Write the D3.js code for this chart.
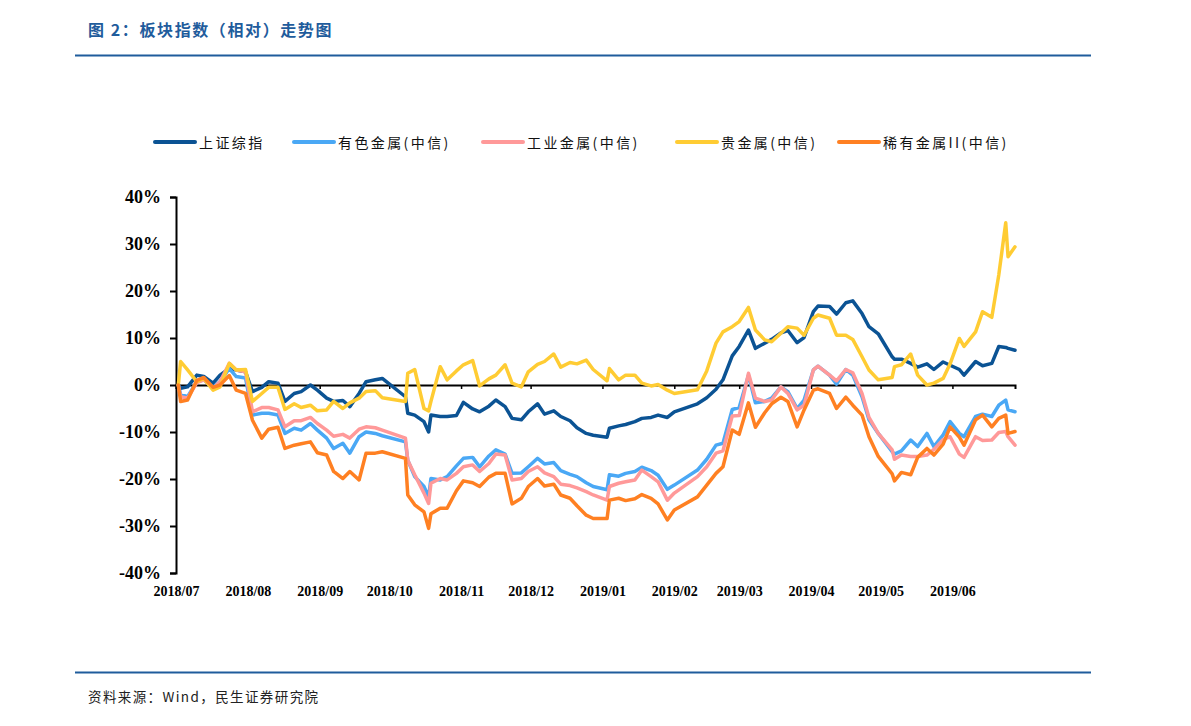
<!DOCTYPE html>
<html><head><meta charset="utf-8">
<script src="https://cdn.jsdelivr.net/npm/d3@7"></script>
<style>
body{margin:0;background:#fff;}
svg{display:block;}
</style></head>
<body>
<svg id="chart" width="1191" height="726"></svg>
<script>
// ---- DATA ----
const dates = [
 "2018-07-02","2018-07-03","2018-07-06","2018-07-10","2018-07-13","2018-07-17","2018-07-20","2018-07-24","2018-07-27","2018-07-31",
 "2018-08-03","2018-08-07","2018-08-10","2018-08-14","2018-08-17","2018-08-21","2018-08-24","2018-08-28","2018-08-31",
 "2018-09-04","2018-09-07","2018-09-11","2018-09-14","2018-09-18","2018-09-21","2018-09-25","2018-09-28",
 "2018-10-08","2018-10-09","2018-10-12","2018-10-16","2018-10-18","2018-10-19","2018-10-23","2018-10-26","2018-10-30",
 "2018-11-02","2018-11-06","2018-11-09","2018-11-13","2018-11-16","2018-11-20","2018-11-23","2018-11-27","2018-11-30",
 "2018-12-04","2018-12-07","2018-12-11","2018-12-14","2018-12-18","2018-12-21","2018-12-25","2018-12-28",
 "2019-01-03","2019-01-04","2019-01-08","2019-01-11","2019-01-15","2019-01-18","2019-01-22","2019-01-25","2019-01-29",
 "2019-02-01","2019-02-11","2019-02-15","2019-02-19","2019-02-22","2019-02-26",
 "2019-03-01","2019-03-05","2019-03-08","2019-03-12","2019-03-15","2019-03-19","2019-03-22","2019-03-26","2019-03-29",
 "2019-04-02","2019-04-04","2019-04-09","2019-04-12","2019-04-16","2019-04-19","2019-04-23","2019-04-26","2019-04-30",
 "2019-05-06","2019-05-07","2019-05-10","2019-05-14","2019-05-17","2019-05-21","2019-05-24","2019-05-28","2019-05-31",
 "2019-06-04","2019-06-06","2019-06-11","2019-06-14","2019-06-18","2019-06-21","2019-06-24","2019-06-25","2019-06-28"
];
const seriesNames = ["上证综指","有色金属(中信)","工业金属(中信)","贵金属(中信)","稀有金属II(中信)"];
const seriesColors = ["#0b5394","#4aa8f5","#ff9999","#ffcc33","#ff8022"];

const shIndex = [
 0,-0.7,-0.4,2.1,1.8,0.4,2.1,3.5,3.2,2.8,
 -1.4,-0.5,0.7,0.4,-3.5,-1.8,-1.4,0,-1.1,
 -2.8,-3.5,-3.3,-4.6,-1.8,0.7,1.1,1.4,
 -2.5,-6.0,-6.4,-7.8,-10.0,-6.4,-6.7,-6.7,-6.5,
 -3.7,-5.1,-5.7,-4.5,-3.2,-4.6,-7.1,-7.4,-5.7,
 -4.0,-6.2,-5.5,-6.7,-7.6,-9.1,-10.3,-10.7,
 -11.1,-9.2,-8.7,-8.4,-7.8,-7.1,-6.9,-6.4,-6.9,
 -5.7,-4.0,-2.7,-0.9,1.1,6.2,
 8.2,11.7,7.8,8.9,9.7,11.1,11.6,9.0,10.1,
 15.6,16.8,16.7,15.1,17.5,17.9,15.2,12.4,10.9,
 6.0,5.5,5.5,4.6,3.8,4.5,3.3,4.9,4.2,
 3.3,2.1,5.0,4.1,4.6,8.2,8.0,7.8,7.4
];
const nonferrous = [
 0,-2.0,-2.5,0.7,1.1,-0.5,0.7,3.5,1.8,1.5,
 -6.4,-6.0,-6.0,-6.4,-10.3,-9.2,-9.6,-8.2,-9.6,
 -11.3,-13.5,-12.4,-14.5,-11.0,-10.0,-10.3,-10.8,
 -12.1,-16.0,-19.5,-21.6,-23.8,-19.9,-20.2,-19.5,-17.2,
 -15.6,-15.4,-17.4,-15.1,-13.8,-14.7,-18.8,-18.7,-17.4,
 -15.6,-16.8,-16.5,-18.2,-19.0,-19.5,-20.8,-21.6,
 -22.3,-19.1,-19.4,-18.8,-18.4,-17.5,-18.2,-19.2,-22.2,
 -21.3,-18.1,-15.8,-12.8,-12.4,-5.2,
 -4.8,2.1,-3.8,-3.5,-2.8,-0.4,-1.4,-5.0,-3.2,
 3.2,4.0,2.1,0.2,3.3,2.1,-2.5,-7.4,-10.3,
 -14.2,-14.7,-14.0,-11.7,-13.1,-10.3,-13.1,-10.6,-7.8,
 -10.3,-11.0,-6.7,-6.2,-6.7,-4.3,-3.2,-5.3,-5.7
];
const industrial = [
 0,-2.5,-2.8,0.5,1.1,-0.7,0.7,4.6,3.2,2.8,
 -5.7,-4.8,-4.8,-5.3,-8.9,-7.6,-7.6,-6.9,-8.2,
 -9.6,-10.9,-10.5,-11.3,-9.4,-8.9,-9.1,-9.6,
 -11.3,-16.0,-19.1,-23.0,-25.2,-20.9,-19.9,-20.2,-18.8,
 -17.4,-17.0,-18.4,-16.7,-14.7,-14.9,-20.2,-19.9,-18.4,
 -17.4,-18.7,-19.5,-21.1,-21.4,-21.9,-22.7,-23.4,
 -24.5,-21.6,-20.9,-20.6,-20.2,-18.1,-19.5,-20.6,-24.5,
 -23.0,-19.5,-17.4,-14.5,-14.0,-6.6,
 -6.5,2.5,-2.8,-3.5,-3.2,-0.4,-1.8,-5.3,-4.3,
 3.2,4.0,2.1,0.9,3.3,2.6,-1.8,-6.9,-10.3,
 -13.8,-15.8,-14.9,-15.2,-15.2,-14.9,-13.7,-11.6,-11.0,
 -14.7,-15.4,-11.0,-11.8,-11.7,-10.1,-9.9,-11.0,-12.8
];
const precious = [
 0,5.0,3.2,0.7,1.4,-1.1,-0.4,4.6,3.2,3.3,
 -3.5,-1.8,-0.5,-0.5,-5.2,-4.0,-4.8,-4.3,-5.5,
 -5.3,-3.5,-5.0,-3.8,-2.8,-1.4,-1.2,-2.7,
 -3.5,2.5,3.3,-5.0,-5.5,-3.5,3.9,1.1,3.0,
 4.3,5.2,-0.2,1.3,2.1,4.3,0.4,-0.4,2.8,
 4.4,5.0,6.6,3.8,4.8,4.5,5.3,3.3,
 0.9,3.5,1.1,2.1,2.1,0.4,-0.2,0.1,-1.1,
 -1.8,-1.0,3.0,8.9,11.3,12.4,
 13.5,16.5,11.7,9.6,9.2,11.0,12.4,12.1,10.6,
 14.2,14.9,14.2,10.6,10.6,9.7,6.0,3.2,1.1,
 1.6,3.9,4.3,6.6,2.1,0.0,0.4,1.4,4.5,
 9.9,8.2,11.3,15.6,14.4,23.4,34.5,27.3,29.4
];
const rareMetal = [
 0,-3.5,-3.2,1.0,1.6,-0.5,0,2.0,-1.1,-1.8,
 -7.5,-11.3,-9.4,-9.0,-13.5,-12.8,-12.5,-12.1,-14.4,
 -14.9,-18.4,-19.9,-18.4,-20.2,-14.5,-14.5,-14.2,
 -15.6,-23.4,-25.5,-27.0,-30.5,-27.4,-26.2,-26.2,-22.5,
 -20.4,-20.8,-21.6,-19.6,-18.8,-18.8,-25.3,-24.1,-21.6,
 -19.9,-21.5,-21.1,-23.4,-24.1,-25.7,-27.7,-28.4,
 -28.4,-24.5,-24.1,-24.6,-24.2,-23.3,-24.1,-25.3,-28.7,
 -26.6,-23.8,-21.3,-18.8,-17.4,-9.6,
 -10.5,-3.8,-9.0,-5.9,-4.0,-2.6,-3.5,-8.9,-5.3,
 -1.1,-0.8,-1.8,-5.0,-2.6,-4.3,-6.4,-11.0,-15.2,
 -18.9,-20.4,-18.6,-19.1,-15.4,-13.5,-14.9,-12.6,-8.9,
 -11.1,-12.8,-7.4,-6.4,-8.9,-7.1,-6.4,-10.3,-9.9
];
const yTicks = [-40,-30,-20,-10,0,10,20,30,40];
const titleText = "图 2：板块指数（相对）走势图";
const sourceText = "资料来源：Wind，民生证券研究院";

// ---- DRAW ----
const svg = d3.select("#chart");
const parse = d3.timeParse("%Y-%m-%d");
const dts = dates.map(parse);
const allSeries = [shIndex, nonferrous, industrial, precious, rareMetal];

const x = d3.scaleTime().domain([new Date(2018,6,1), new Date(2019,5,28)]).range([176, 1015]);
const y = d3.scaleLinear().domain([-40,40]).range([573,197]);

// title + rules
svg.append("text").attr("x",88).attr("y",36)
  .attr("font-family","'Noto Sans CJK SC'").attr("font-weight","bold")
  .attr("font-size",16).attr("letter-spacing",1.6).attr("fill","#1f5c9c").text(titleText);
svg.append("line").attr("x1",75).attr("x2",1091).attr("y1",55.5).attr("y2",55.5)
  .attr("stroke","#1f5c9c").attr("stroke-width",2);
svg.append("line").attr("x1",75).attr("x2",1091).attr("y1",672.5).attr("y2",672.5)
  .attr("stroke","#1f5c9c").attr("stroke-width",2);
svg.append("text").attr("x",88).attr("y",702)
  .attr("font-family","'Noto Sans CJK SC'").attr("font-size",13.5).attr("letter-spacing",1.4)
  .attr("fill","#222").text(sourceText);

// legend
const legendX = [155, 294, 483, 677, 839];
const leg = svg.append("g");
seriesNames.forEach((n,i)=>{
  leg.append("line").attr("x1",legendX[i]).attr("x2",legendX[i]+40).attr("y1",142).attr("y2",142)
    .attr("stroke",seriesColors[i]).attr("stroke-width",4).attr("stroke-linecap","round");
  leg.append("text").attr("x",legendX[i]+44).attr("y",147.5)
    .attr("font-family","'Noto Sans CJK SC'").attr("font-size",14).attr("letter-spacing",2.4)
    .attr("fill","#111").text(n);
});

// y axis
const yAxis = svg.append("g").attr("transform","translate(176,0)")
  .call(d3.axisLeft(y).tickValues(yTicks).tickSize(6).tickPadding(9).tickFormat(d=>d+"%"));
yAxis.select(".domain").attr("stroke","#000").attr("stroke-width",2);
yAxis.selectAll(".tick line").attr("stroke","#000").attr("stroke-width",2);
yAxis.selectAll("text").attr("font-family","'Liberation Serif','Times New Roman',serif")
  .attr("font-weight","bold").attr("font-size",18).attr("fill","#000");

// zero axis with month ticks
const monthTicks = d3.timeMonth.range(new Date(2018,6,1), new Date(2019,5,2));
const xAxis = svg.append("g").attr("transform",`translate(0,${y(0)})`)
  .call(d3.axisBottom(x).tickValues(monthTicks).tickSize(4).tickFormat(""));
xAxis.select(".domain").attr("stroke","#000").attr("stroke-width",2);
xAxis.selectAll(".tick line").attr("stroke","#000").attr("stroke-width",1.5);

// month labels at bottom
const xLab = svg.append("g").attr("transform","translate(0,573)")
  .call(d3.axisBottom(x).tickValues(monthTicks).tickSize(0).tickPadding(13).tickFormat(d3.timeFormat("%Y/%m")));
xLab.select(".domain").remove();
xLab.selectAll("text").attr("font-family","'Liberation Serif','Times New Roman',serif")
  .attr("font-weight","bold").attr("font-size",14).attr("fill","#000");

// lines
const line = d3.line().x((d,i)=>x(dts[i])).y(d=>y(d)).curve(d3.curveLinear);
allSeries.forEach((s,i)=>{
  svg.append("path").datum(s).attr("d",line).attr("fill","none")
    .attr("stroke",seriesColors[i]).attr("stroke-width",3.5)
    .attr("stroke-linejoin","round").attr("stroke-linecap","round");
});
</script>
</body></html>
